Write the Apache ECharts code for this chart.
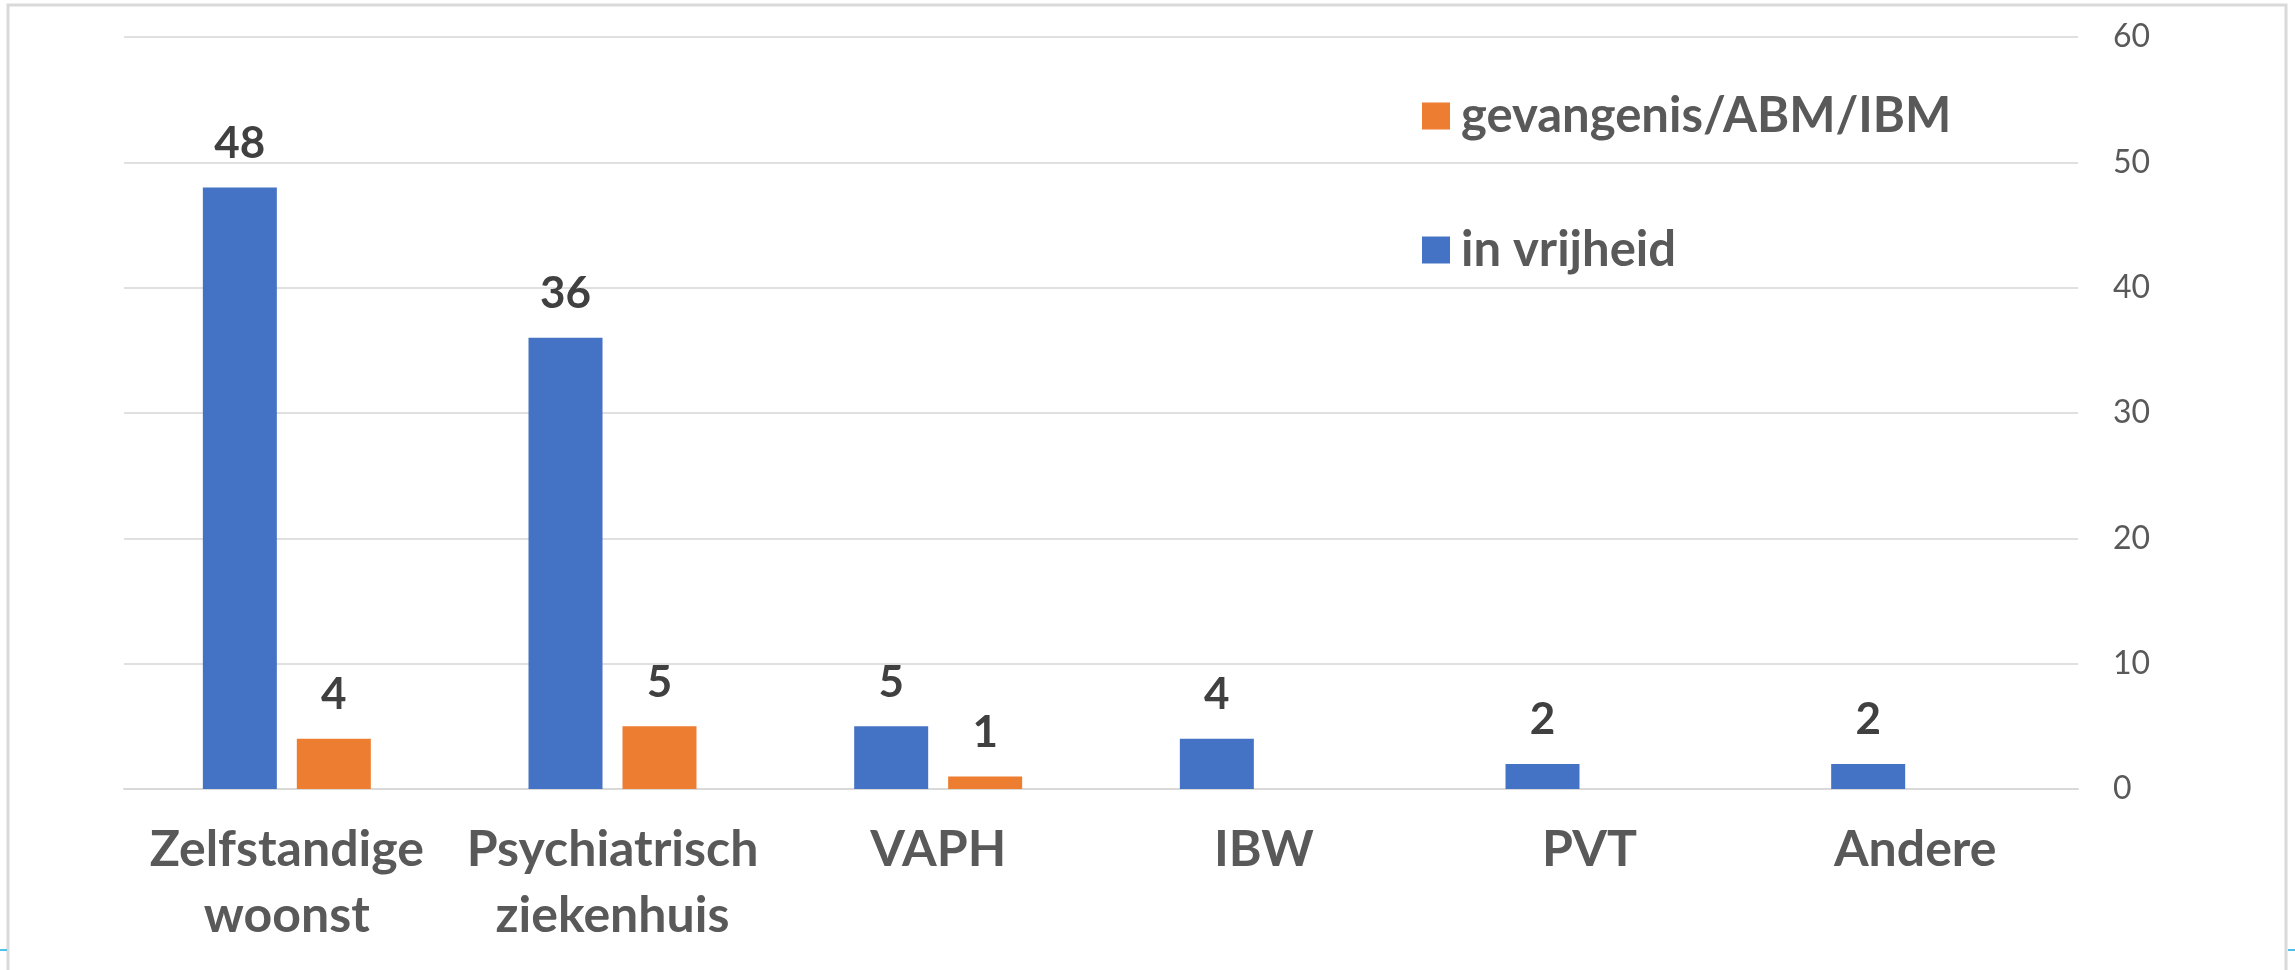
<!DOCTYPE html>
<html>
<head>
<meta charset="utf-8">
<script src="https://cdn.jsdelivr.net/npm/echarts@6/dist/echarts.min.js"></script>
<style>
html,body{margin:0;padding:0;background:#fff;}
#chart{width:2295px;height:970px;}
</style>
</head>
<body>
<div id="chart"></div>
<script>
const categories = ['Zelfstandige\nwoonst', 'Psychiatrisch\nziekenhuis', 'VAPH', 'IBW', 'PVT', 'Andere'];
const vrijheid = [48, 36, 5, 4, 2, 2];
const gevangenis = [4, 5, 1, null, null, null];
const yTicks = { min: 0, max: 60, interval: 10 };
const seriesNames = ['in vrijheid', 'gevangenis/ABM/IBM'];

const chart = echarts.init(document.getElementById('chart'));
const FONT = 'Lato';
const dataLabel = {
  show: true,
  position: 'top',
  distance: 22,
  fontFamily: FONT,
  fontWeight: 'bold',
  fontSize: 44,
  color: '#404040'
};
chart.setOption({
  animation: false,
  backgroundColor: '#ffffff',
  graphic: [
    { type: 'rect', shape: { x: 8, y: 5, width: 2278, height: 980 },
      style: { fill: 'none', stroke: '#d9d9d9', lineWidth: 3 }, silent: true },
    { type: 'line', shape: { x1: 0, y1: 950, x2: 7, y2: 950 },
      style: { stroke: '#4fc1e9', lineWidth: 2 }, silent: true },
    { type: 'line', shape: { x1: 2288, y1: 950, x2: 2295, y2: 950 },
      style: { stroke: '#4fc1e9', lineWidth: 2 }, silent: true }
  ],
  grid: { left: 124, right: 217, top: 37, bottom: 181, containLabel: false },
  legend: {
    orient: 'vertical',
    left: 1417,
    top: 84,
    itemWidth: 28,
    itemHeight: 27,
    itemGap: 80,
    icon: 'rect',
    data: [seriesNames[1], seriesNames[0]],
    textStyle: {
      fontFamily: FONT,
      fontWeight: 'bold',
      fontSize: 49,
      lineHeight: 54,
      color: '#595959',
      padding: [0, 0, 0, 6]
    }
  },
  xAxis: {
    type: 'category',
    data: categories,
    axisLine: { lineStyle: { color: '#d9d9d9', width: 2 } },
    axisTick: { show: false },
    axisLabel: {
      interval: 0,
      margin: 28,
      fontFamily: FONT,
      fontWeight: 'bold',
      fontSize: 50,
      lineHeight: 66,
      color: '#595959'
    }
  },
  yAxis: {
    type: 'value',
    position: 'right',
    min: yTicks.min,
    max: yTicks.max,
    interval: yTicks.interval,
    axisLine: { show: false },
    axisTick: { show: false },
    splitLine: { lineStyle: { color: '#e0e0e0', width: 2 } },
    axisLabel: {
      margin: 35,
      fontFamily: FONT,
      fontSize: 32,
      color: '#595959'
    }
  },
  series: [
    {
      name: seriesNames[0],
      type: 'bar',
      data: vrijheid,
      barWidth: 74,
      barGap: '27%',
      itemStyle: { color: '#4472c4' },
      label: dataLabel
    },
    {
      name: seriesNames[1],
      type: 'bar',
      data: gevangenis,
      barWidth: 74,
      barGap: '27%',
      itemStyle: { color: '#ed7d31' },
      label: dataLabel
    }
  ]
});
</script>
</body>
</html>
